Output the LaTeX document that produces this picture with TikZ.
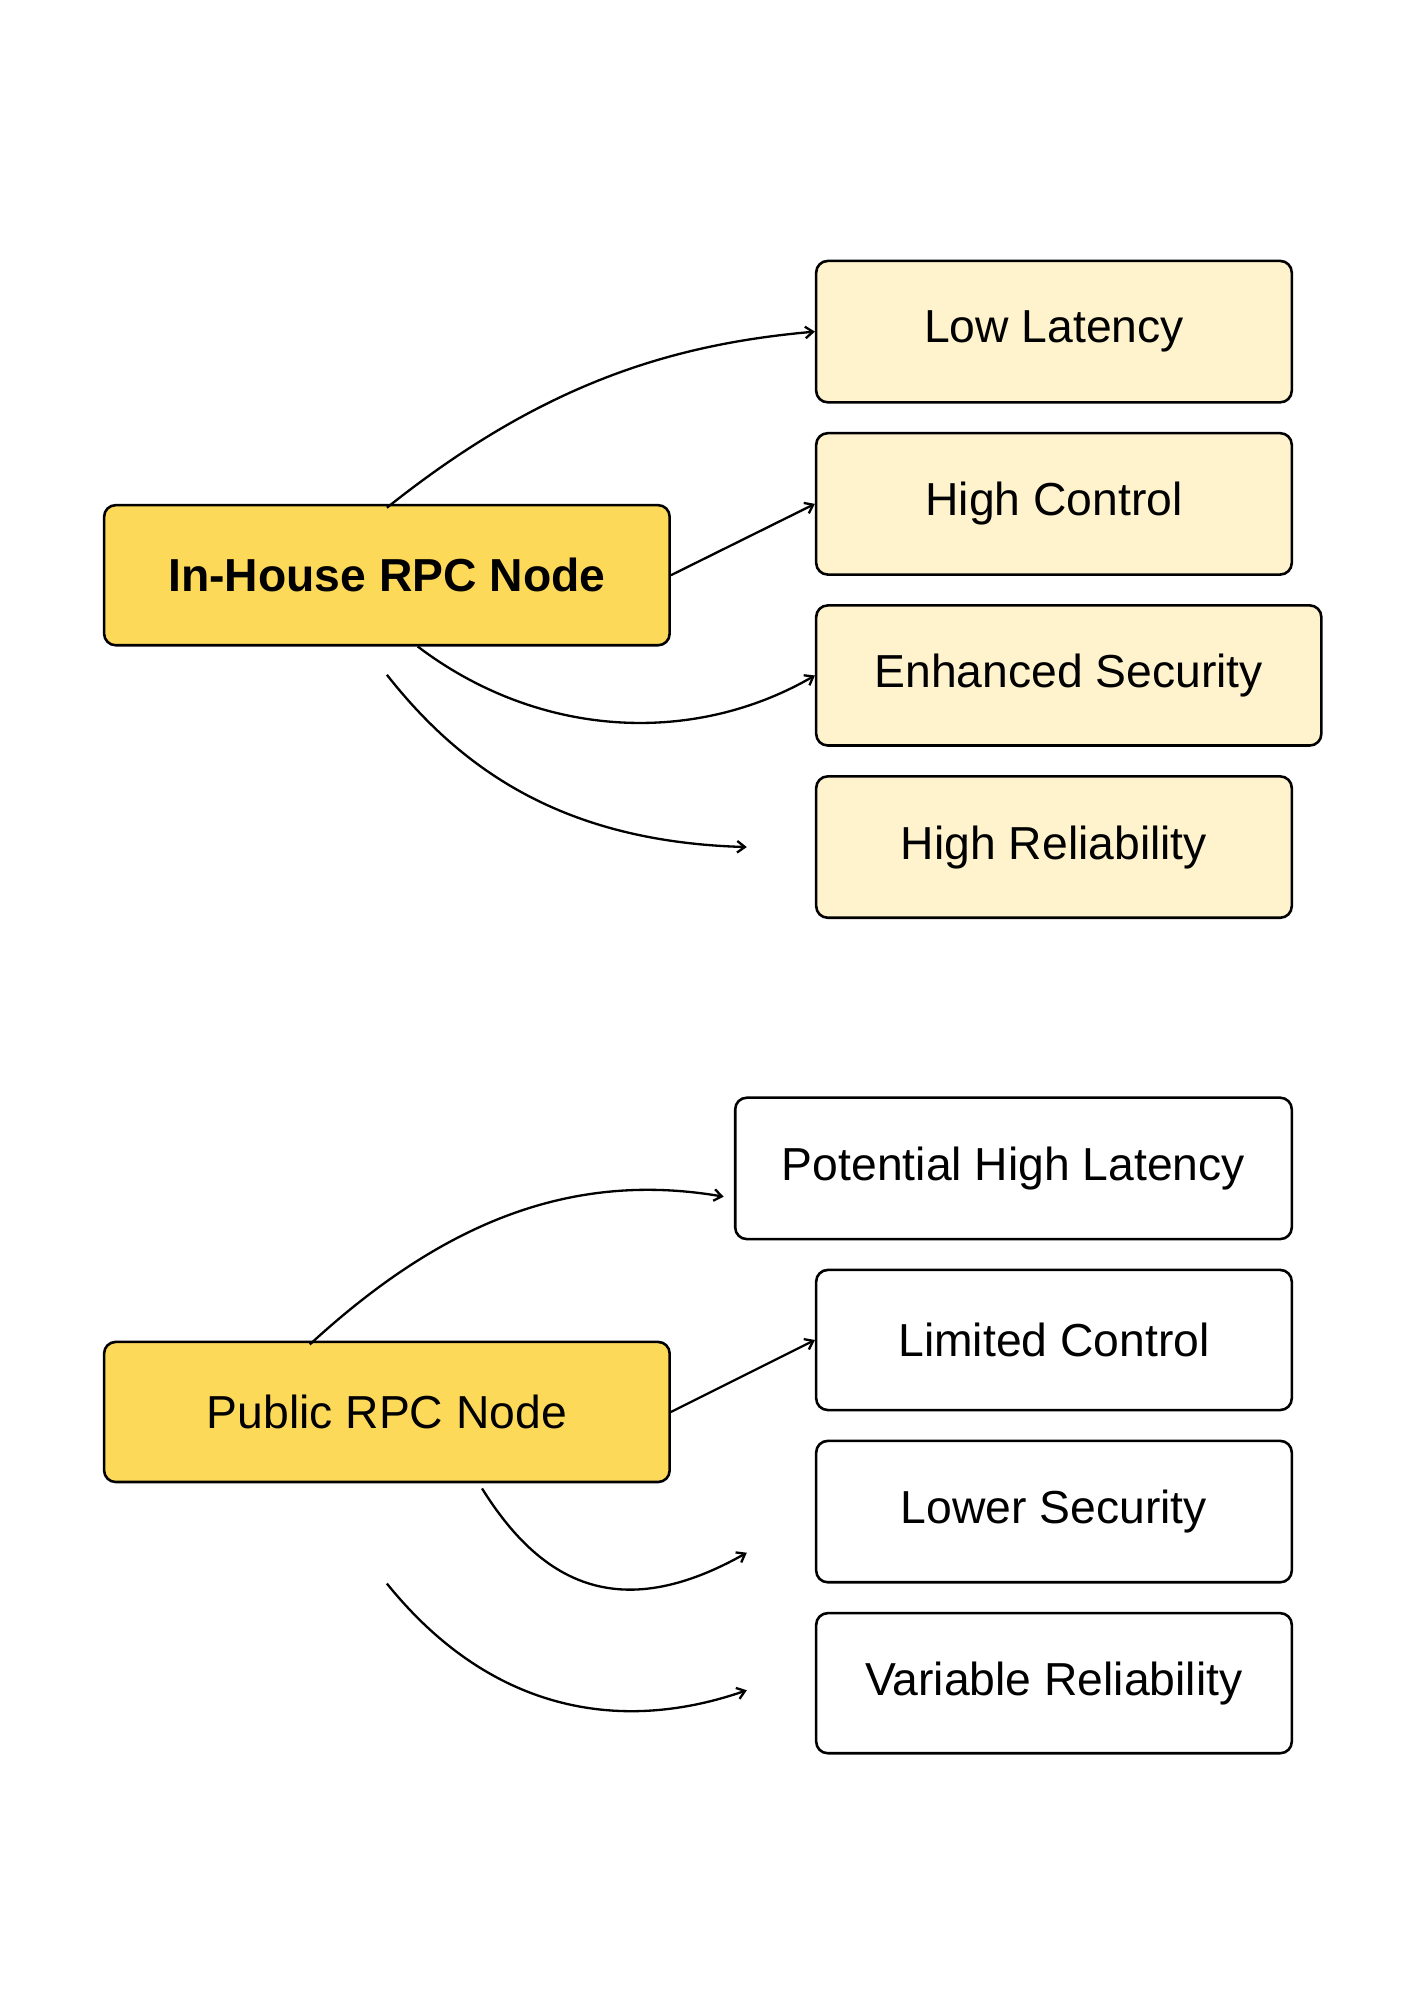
\documentclass[tikz,border=0pt]{standalone}
\usepackage{fontspec}
\setmainfont{Liberation Sans}
\begin{document}
\begin{tikzpicture}[x=1pt,y=-1pt,
  box/.style={draw=black,line width=2pt,rounded corners=9pt,inner sep=0pt,font=\fontsize{36}{40}\selectfont},
  main/.style={box,fill=mainy},
  lite/.style={box,fill=litey},
  plain/.style={box,fill=white},
  conn/.style={line width=1.8pt,-{Straight Barb[length=6pt,width=9pt]}}]
\definecolor{mainy}{HTML}{FDD95A}
\definecolor{litey}{HTML}{FEF3CC}
\usetikzlibrary{arrows.meta}
\useasboundingbox (0,0) rectangle (1100,1556);
\newcommand{\bx}[6]{\node[#1,minimum width=#4-#3,minimum height=#6-#5] (#2) at ({(#3+#4)/2},{(#5+#6)/2})}
\bx{main}{ih}{81}{521}{393}{502} {\textbf{In-House RPC Node}};
\bx{lite}{a}{635}{1005}{203}{313} {Low Latency};
\bx{lite}{b}{635}{1005}{337}{447} {High Control};
\bx{lite}{c}{635}{1028}{471}{580} {Enhanced Security};
\bx{lite}{d}{635}{1005}{604}{714} {High Reliability};
\bx{main}{pu}{81}{521}{1044}{1153} {Public RPC Node};
\bx{plain}{e}{572}{1005}{854}{964} {Potential High Latency};
\bx{plain}{f}{635}{1005}{988}{1097} {Limited Control};
\bx{plain}{g}{635}{1005}{1121}{1231} {Lower Security};
\bx{plain}{h}{635}{1005}{1255}{1364} {Variable Reliability};
\coordinate (d0) at (581,659);
\coordinate (g0) at (581,1208);
\coordinate (h0) at (581,1315);
\coordinate (s8) at (301,1232);
\draw[conn] ([xshift=0pt,yshift=-3pt]ih.north) .. controls (420,300) and (520,268) .. (a.west);
\draw[conn] (ih.east) -- (b.west);
\draw[conn] ([xshift=24pt]ih.south) .. controls (420,575) and (540,580) .. (c.west);
\draw[conn] ([yshift=-22pt]ih.south) .. controls (360,600) and (440,655) .. (d0);
\draw[conn] ([xshift=-60pt,yshift=-3pt]pu.north) .. controls (340,955) and (440,910) .. ([xshift=-8pt,yshift=-22pt]e.west);
\draw[conn] (pu.east) -- (f.west);
\draw[conn] ([xshift=74pt,yshift=-4pt]pu.south) .. controls (420,1230) and (480,1265) .. (g0);
\draw[conn] (s8) .. controls (380,1330) and (480,1350) .. (h0);
\end{tikzpicture}
\end{document}
